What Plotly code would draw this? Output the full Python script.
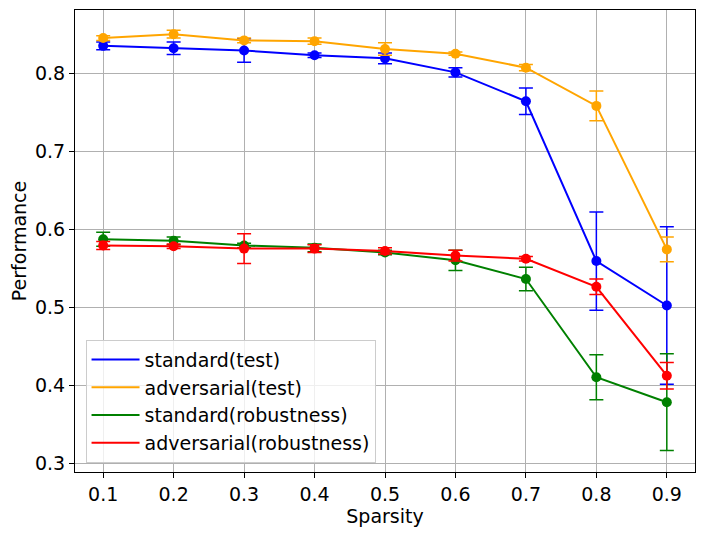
import plotly.graph_objects as go

# sparsity levels
sparsity = [0.1, 0.2, 0.3, 0.4, 0.5, 0.6, 0.7, 0.8, 0.9]

# mean performance per setting
standard_test = [0.835, 0.832, 0.829, 0.823, 0.819, 0.801, 0.764, 0.559, 0.502]
adversarial_test = [0.845, 0.850, 0.842, 0.841, 0.831, 0.825, 0.807, 0.758, 0.574]
standard_robust = [0.587, 0.585, 0.579, 0.576, 0.570, 0.560, 0.536, 0.410, 0.378]
adversarial_robust = [0.579, 0.578, 0.575, 0.575, 0.572, 0.566, 0.562, 0.526, 0.412]

# error bar half-widths
standard_test_err = [0.005, 0.008, 0.015, 0.003, 0.007, 0.006, 0.017, 0.063, 0.101]
adversarial_test_err = [0.003, 0.005, 0.003, 0.004, 0.008, 0.002, 0.004, 0.019, 0.016]
standard_robust_err = [0.009, 0.005, 0.003, 0.005, 0.003, 0.013, 0.015, 0.029, 0.062]
adversarial_robust_err = [0.005, 0.003, 0.019, 0.005, 0.004, 0.007, 0.003, 0.010, 0.017]

names = ["standard(test)", "adversarial(test)", "standard(robustness)", "adversarial(robustness)"]
colors = ["blue", "orange", "green", "red"]
series = [standard_test, adversarial_test, standard_robust, adversarial_robust]
errors = [standard_test_err, adversarial_test_err, standard_robust_err, adversarial_robust_err]

fig = go.Figure()

for name, color, y, err in zip(names, colors, series, errors):
    fig.add_trace(go.Scatter(
        x=sparsity, y=y, mode="lines+markers", name=name,
        line=dict(color=color, width=2),
        marker=dict(color=color, size=10),
        error_y=dict(type="data", array=err, visible=True, color=color,
                     thickness=1.5, width=7),
        showlegend=False))

# legend entries show only the line
for name, color in zip(names, colors):
    fig.add_trace(go.Scatter(
        x=[None], y=[None], mode="lines", name=name,
        line=dict(color=color, width=2)))

axis_style = dict(showline=True, linecolor="black", linewidth=1, mirror=True,
                  ticks="outside", ticklen=5, tickcolor="black",
                  showgrid=True, gridcolor="#b0b0b0", gridwidth=1,
                  zeroline=False, tickfont=dict(size=19, color="black"))

fig.update_layout(
    width=705, height=535,
    margin=dict(l=67, r=18, t=2, b=71),
    paper_bgcolor="white", plot_bgcolor="white",
    font=dict(family="DejaVu Sans", size=19, color="black"),
    legend=dict(x=0.017, y=0.02, xanchor="left", yanchor="bottom",
                bgcolor="rgba(255,255,255,0.8)", bordercolor="#cccccc",
                borderwidth=1, font=dict(size=19), tracegroupgap=0,
                itemwidth=48),
)
fig.update_xaxes(range=[0.06, 0.94], tickvals=sparsity,
                 ticktext=[str(s) for s in sparsity],
                 title=dict(text="Sparsity", font=dict(size=19), standoff=4),
                 **axis_style)
fig.update_yaxes(range=[0.2885, 0.881], tickvals=[0.3, 0.4, 0.5, 0.6, 0.7, 0.8],
                 ticktext=["0.3", "0.4", "0.5", "0.6", "0.7", "0.8"],
                 title=dict(text="Performance", font=dict(size=19), standoff=6),
                 **axis_style)

fig.write_html("out.html")
